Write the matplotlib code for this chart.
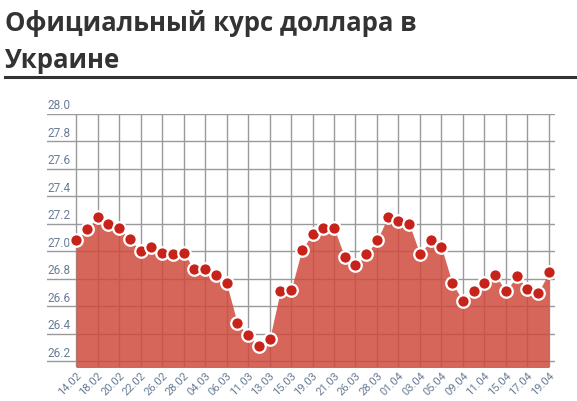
import matplotlib
matplotlib.use('Agg')
import matplotlib.pyplot as plt
from matplotlib.lines import Line2D

title_lines = ['Официальный курс доллара в', 'Украине']

dates = ['14.02', '15.02', '18.02', '19.02', '20.02', '21.02', '22.02', '25.02',
         '26.02', '27.02', '28.02', '01.03', '04.03', '05.03', '06.03', '07.03',
         '11.03', '12.03', '13.03', '14.03', '15.03', '18.03', '19.03', '20.03',
         '21.03', '22.03', '26.03', '27.03', '28.03', '29.03', '01.04', '02.04',
         '03.04', '04.04', '05.04', '08.04', '09.04', '10.04', '11.04', '12.04',
         '15.04', '16.04', '17.04', '18.04', '19.04']

rates = [27.08, 27.16, 27.25, 27.20, 27.17, 27.09, 27.00, 27.03,
         26.99, 26.98, 26.99, 26.87, 26.87, 26.83, 26.77, 26.48,
         26.39, 26.31, 26.36, 26.71, 26.72, 27.01, 27.13, 27.17,
         27.17, 26.96, 26.90, 26.98, 27.08, 27.25, 27.22, 27.20,
         26.98, 27.08, 27.03, 26.77, 26.64, 26.71, 26.77, 26.83,
         26.71, 26.82, 26.73, 26.70, 26.85]

y_ticks = [26.2, 26.4, 26.6, 26.8, 27.0, 27.2, 27.4, 27.6, 27.8, 28.0]

fill_color = '#cf4a3d'
dot_color = '#c8231b'
label_color = '#6a7d96'
tick_font = ['Roboto', 'DejaVu Sans']

fig = plt.figure(figsize=(5.77, 4.01), dpi=100)
fig.patch.set_facecolor('white')

# title, two lines, + rule under it
for i, line in enumerate(title_lines):
    fig.text(5 / 577, 1 - (31 + 37 * i) / 401, line, ha='left', va='baseline',
             fontsize=18.5, fontweight='bold', color='#333333',
             family=['Open Sans', 'DejaVu Sans'])
fig.add_artist(Line2D([5 / 577, 1.0], [1 - 76.5 / 401, 1 - 76.5 / 401],
                      transform=fig.transFigure, color='#333333', lw=2.2))

ax = fig.add_axes([47 / 577, 34.3 / 401, 508 / 577, 252.7 / 401])
x = list(range(len(rates)))

ax.fill_between(x, rates, 26.0, color=fill_color, alpha=0.85, lw=0, zorder=2)
ax.plot(x, rates, ls='none', marker='o', ms=9, mfc=dot_color, mec='white',
        mew=1.6, zorder=4, clip_on=False)

ax.set_xlim(-2.7, 44.56)
ax.set_ylim(26.162, 28.0)

ax.set_xticks(x[::2])
ax.set_xticklabels(dates[::2], rotation=45, ha='right', va='top',
                   rotation_mode='anchor', color=label_color, fontsize=8,
                   family=tick_font)
ax.set_yticks(y_ticks)
ax.set_yticklabels([])
ax.tick_params(length=0, pad=3)

ax.set_axisbelow(True)
ax.grid(True, color='#9a9a9a', lw=1.0)
for sp in ax.spines.values():
    sp.set_visible(False)

# y labels sit just above their gridlines
for v in y_ticks:
    ax.text(0.0, v + 0.014, f'{v:.1f}', transform=ax.get_yaxis_transform(),
            ha='left', va='bottom', color=label_color, fontsize=8.5,
            family=tick_font)

fig.savefig('out.png', dpi=100)
